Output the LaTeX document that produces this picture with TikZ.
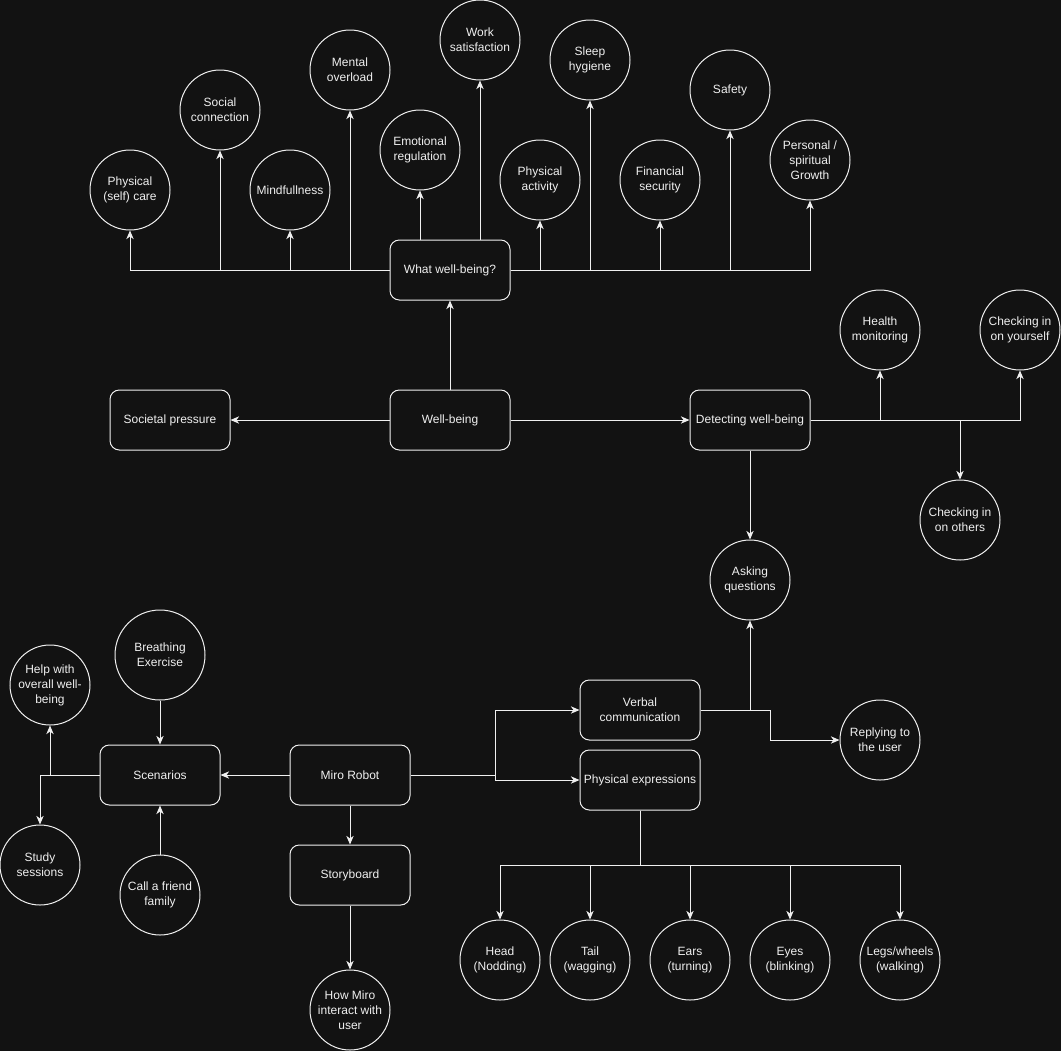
\documentclass[tikz,border=0pt]{standalone}
\usepackage{fontspec}
\setmainfont{Liberation Sans}
\usetikzlibrary{arrows.meta}
\definecolor{bgdark}{RGB}{18,18,18}
\definecolor{inkwhite}{RGB}{240,240,240}

\begin{document}
\begin{tikzpicture}[x=0.75pt, y=-0.75pt,
    box/.style={draw=inkwhite, line width=0.75pt, rounded corners=7pt, fill=bgdark,
      minimum width=90pt, minimum height=45pt, inner sep=1pt, align=center, text=inkwhite},
    topic/.style={draw=inkwhite, line width=0.75pt, circle, fill=bgdark,
      minimum size=60pt, inner sep=0pt, align=center, text=inkwhite},
    arr/.style={draw=inkwhite, line width=0.75pt, -{Stealth[length=6.5pt, width=5.5pt, inset=2pt]}},
    font=\fontsize{9pt}{11.25pt}\selectfont]
  \fill[bgdark] (0,0) rectangle (1061,1051);
  \useasboundingbox (0,0) rectangle (1061,1051);

  % main boxes
  \node[box] (wb) at (450,420) {Well-being};
  \node[box] (what) at (450,270) {What well-being?};
  \node[box] (soc) at (170,420) {Societal pressure};
  \node[box] (detect) at (750,420) {Detecting well-being};
  \node[box] (verbal) at (640,710) {Verbal\\communication};
  \node[box] (phys) at (640,780) {Physical expressions};
  \node[box] (scen) at (160,775) {Scenarios};
  \node[box] (miro) at (350,775) {Miro Robot};
  \node[box] (story) at (350,875) {Storyboard};

  % kinds of well-being
  \node[topic] (care) at (130,190) {Physical\\(self) care};
  \node[topic] (social) at (220,110) {Social\\connection};
  \node[topic] (mind) at (290,190) {Mindfullness};
  \node[topic] (mental) at (350,70) {Mental\\overload};
  \node[topic] (emo) at (420,150) {Emotional\\regulation};
  \node[topic] (work) at (480,40) {Work\\satisfaction};
  \node[topic] (activ) at (540,180) {Physical\\activity};
  \node[topic] (sleep) at (590,60) {Sleep\\hygiene};
  \node[topic] (money) at (660,180) {Financial\\security};
  \node[topic] (safe) at (730,90) {Safety};
  \node[topic] (growth) at (810,160) {Personal /\\spiritual\\Growth};

  % detecting
  \node[topic] (health) at (880,330) {Health\\monitoring};
  \node[topic] (yourself) at (1020,330) {Checking in\\on yourself};
  \node[topic] (others) at (960,520) {Checking in\\on others};
  \node[topic] (asking) at (750,580) {Asking\\questions};
  \node[topic] (reply) at (880,740) {Replying to\\the user};

  % scenarios
  \node[topic, minimum size=67.5pt] (breath) at (160,655) {Breathing\\Exercise};
  \node[topic] (help) at (50,685) {Help with\\overall well-\\being};
  \node[topic] (study) at (40,865) {Study\\sessions};
  \node[topic] (call) at (160,895) {Call a friend\\family};
  \node[topic] (how) at (350,1010) {How Miro\\interact with\\user};

  % expressions
  \node[topic] (head) at (500,960) {Head\\(Nodding)};
  \node[topic] (tail) at (590,960) {Tail\\(wagging)};
  \node[topic] (ears) at (690,960) {Ears\\(turning)};
  \node[topic] (eyes) at (790,960) {Eyes\\(blinking)};
  \node[topic] (legs) at (900,960) {Legs/wheels\\(walking)};

  \draw[arr] (wb) -- (what);
  \draw[arr] (wb) -- (soc);
  \draw[arr] (wb) -- (detect);

  \foreach \n in {care, social, mind, mental}
    \draw[arr] (what.west) -| (\n);
  \foreach \n in {emo, work}
    \draw[arr] (\n |- what.north) -- (\n);
  \foreach \n in {activ, sleep, money, safe, growth}
    \draw[arr] (what.east) -| (\n);

  \foreach \n in {health, yourself, others}
    \draw[arr] (detect.east) -| (\n);
  \draw[arr] (detect) -- (asking);
  \draw[arr] (verbal.east) -| (asking);
  \draw[arr] (verbal.east) -- ++(70,0) |- (reply);

  \draw[arr] (miro.east) -- ++(85,0) |- (verbal);
  \draw[arr] (miro.east) -- ++(85,0) |- (phys);
  \foreach \n in {head, tail, ears, eyes, legs}
    \draw[arr] (phys.south) -- ++(0,55) -| (\n);

  \draw[arr] (miro) -- (scen);
  \draw[arr] (miro) -- (story);
  \draw[arr] (story) -- (how);
  \draw[arr] (breath) -- (scen);
  \draw[arr] (call) -- (scen);
  \draw[arr] (scen.west) -| (help);
  \draw[arr] (scen.west) -| (study);
\end{tikzpicture}
\end{document}
